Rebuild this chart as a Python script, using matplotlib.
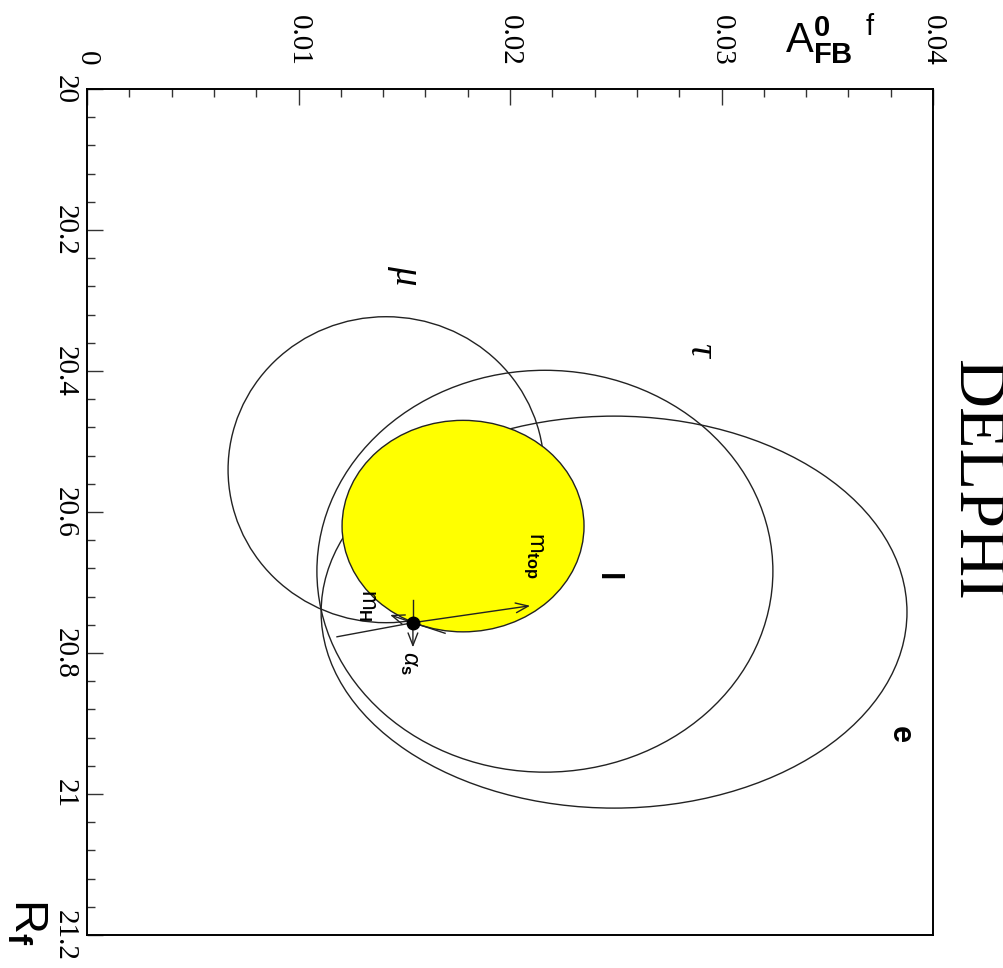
import matplotlib
matplotlib.use("Agg")
import matplotlib.pyplot as plt
from matplotlib.patches import Ellipse
from matplotlib.ticker import MultipleLocator

# contour ellipses: lepton flavour, centre and half-extent in (A_FB, R_f)
names = ["e", "\u03c4", "\u03bc", "l"]
center_A = [0.02492, 0.02165, 0.01414, 0.01778]
center_R = [20.742, 20.684, 20.540, 20.620]
half_A = [0.01385, 0.01078, 0.00747, 0.00572]
half_R = [0.278, 0.285, 0.217, 0.150]

# label position for each contour
label_A = [0.03844, 0.02898, 0.01504, 0.02459]
label_R = [20.916, 20.370, 20.264, 20.692]

# Standard Model point and its parameter arrows (tail -> head)
sm_A, sm_R = 0.01541, 20.757
arrow_names = ["m_top", "m_H", "alpha_s"]
arrow_tail_A = [0.01182, 0.01693, 0.01541]
arrow_tail_R = [20.777, 20.772, 20.725]
arrow_head_A = [0.02095, 0.01433, 0.01541]
arrow_head_R = [20.733, 20.746, 20.792]
arrow_text = [r"$\mathrm{m}_{\mathbf{top}}$", r"$\mathrm{m}_{\mathbf{H}}$", r"$\alpha_{\mathbf{s}}$"]
arrow_text_A = [0.02109, 0.01329, 0.01527]
arrow_text_R = [20.661, 20.732, 20.814]

a_ticks = [0, 0.01, 0.02, 0.03, 0.04]
a_ticklabels = ["0", "0.01", "0.02", "0.03", "0.04"]
r_ticks = [20.0, 20.2, 20.4, 20.6, 20.8, 21.0, 21.2]
r_ticklabels = ["20", "20.2", "20.4", "20.6", "20.8", "21", "21.2"]

plt.rcParams["mathtext.fontset"] = "custom"
plt.rcParams["mathtext.rm"] = "Liberation Sans"
plt.rcParams["mathtext.it"] = "Liberation Sans:italic"
plt.rcParams["mathtext.bf"] = "Liberation Sans:bold"

fig = plt.figure(figsize=(10.04, 9.68), dpi=100)
ax = fig.add_axes([87 / 1004, 1 - 935 / 968, 846 / 1004, 846 / 968])

ax.set_xlim(0, 0.04)
ax.set_ylim(21.2, 20.0)

for i, nm in enumerate(names):
    filled = nm == "l"
    ell = Ellipse((center_A[i], center_R[i]), 2 * half_A[i], 2 * half_R[i],
                  facecolor="#ffff00" if filled else "none",
                  edgecolor="#222222", linewidth=1.0,
                  zorder=3 if filled else 2)
    ax.add_patch(ell)
    latin = nm in ("e", "l")
    ax.text(label_A[i], label_R[i], nm, rotation=-90, ha="center", va="center",
            fontsize=22 if latin else 28,
            family="Liberation Sans" if latin else "Liberation Serif",
            weight="bold" if latin else "normal",
            style="normal" if latin else "italic", zorder=5)

for i in range(len(arrow_names)):
    ax.plot([arrow_tail_A[i], sm_A], [arrow_tail_R[i], sm_R],
            color="#222222", lw=1.0, zorder=4)
    ax.annotate("", xy=(arrow_head_A[i], arrow_head_R[i]), xytext=(sm_A, sm_R),
                arrowprops=dict(arrowstyle="->,head_length=0.9,head_width=0.35",
                                color="#222222", lw=1.0, shrinkA=0, shrinkB=0),
                zorder=4)
    ax.text(arrow_text_A[i], arrow_text_R[i], arrow_text[i], rotation=-90,
            ha="center", va="center", fontsize=17, zorder=5)

ax.plot([sm_A], [sm_R], "o", color="black", ms=9, zorder=6)

ax.xaxis.tick_top()
ax.set_xticks(a_ticks)
ax.set_xticklabels(a_ticklabels, rotation=-90, family="Liberation Serif", fontsize=21)
ax.set_yticks(r_ticks)
ax.set_yticklabels(r_ticklabels, rotation=-90, family="Liberation Serif", fontsize=21,
                   va="center")
ax.xaxis.set_minor_locator(MultipleLocator(0.002))
ax.yaxis.set_minor_locator(MultipleLocator(0.04))
ax.tick_params(which="both", direction="in", top=True, bottom=False,
               left=True, right=False, labeltop=True, labelbottom=False,
               width=1.0, color="#333333")
ax.tick_params(axis="x", which="major", length=11.5, pad=17)
ax.tick_params(axis="y", which="major", length=11.5, pad=7)
ax.tick_params(which="minor", length=5.8)
for sp in ax.spines.values():
    sp.set_linewidth(1.4)

fig.text(785 / 1004, 1 - 12 / 968, r"$\mathrm{A}^{\mathbf{0}}_{\mathbf{FB}}\ {}^{\mathrm{f}}$",
         ha="left", va="top", fontsize=30)
fig.text(4 / 1004, 1 - 898 / 968, r"$\mathrm{R}_{\mathbf{f}}$", rotation=-90,
         ha="left", va="top", fontsize=34)
fig.text(975 / 1004, 1 - 480 / 968, "DELPHI", rotation=-90, ha="center", va="center",
         family="Liberation Serif", fontsize=49)

fig.savefig("out.png", dpi=100, facecolor="white")
